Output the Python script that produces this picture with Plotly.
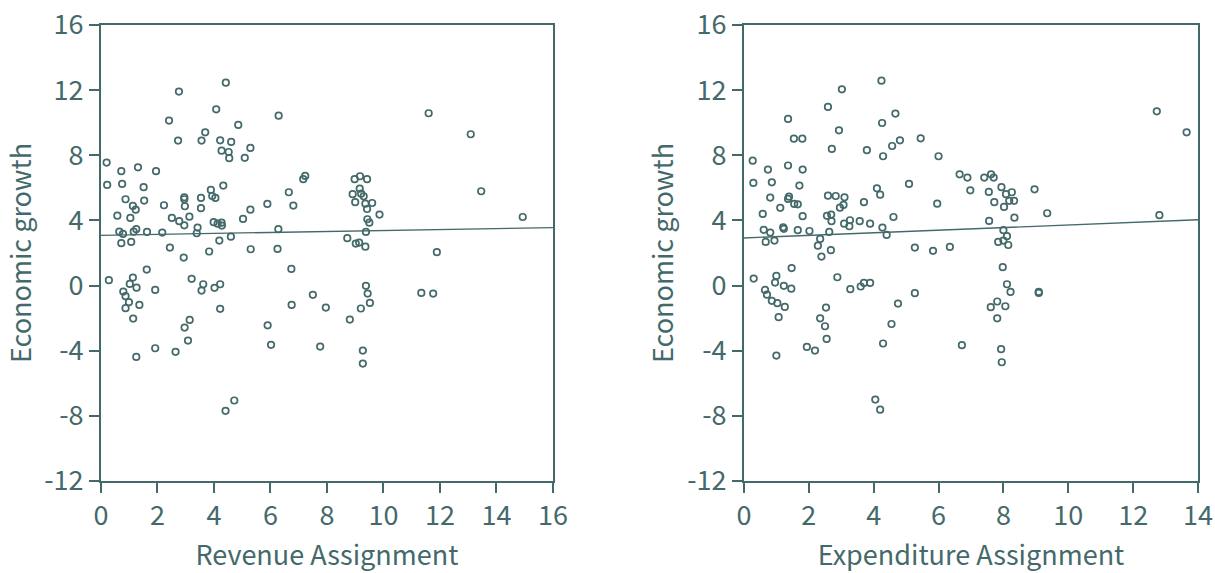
import plotly.graph_objects as go
import numpy as np

# ---- Data: left panel (Revenue Assignment vs Economic growth) ----
rev_x = [0.20, 0.22, 0.72, 0.75, 1.31, 1.95, 1.51, 0.87, 1.53, 1.13, 1.23, 0.58, 1.04,
         0.65, 0.78, 1.16, 1.25, 1.63, 2.17, 0.72, 1.07, 2.44, 2.93, 2.23, 2.51, 2.77,
         2.95, 2.95, 2.95, 2.97, 3.13, 3.42, 3.39, 3.54, 3.54, 3.89, 3.94, 4.05, 4.33,
         3.99, 4.13, 4.27, 4.28, 4.19, 3.83, 4.60, 5.03, 5.29, 5.89, 6.28, 5.30, 6.25,
         6.65, 6.81, 7.16, 7.23, 2.76, 4.42, 4.08, 2.41, 6.29, 4.86, 3.69, 2.73, 3.56,
         4.22, 4.61, 5.29, 4.27, 4.52, 4.54, 5.09,
         11.60, 13.09, 13.46, 14.93, 8.98, 9.17, 9.42, 9.16, 8.91, 9.21, 9.30, 9.00,
         9.36, 9.60, 9.42, 9.86, 9.43, 9.50, 9.38, 8.72, 9.02, 9.14, 9.36, 11.89,
         1.62, 0.28, 1.13, 1.02, 1.26, 0.79, 0.87, 0.99, 0.87, 1.36, 1.14, 1.25, 1.92,
         1.92, 2.64, 3.14, 2.96, 3.08, 3.21, 3.62, 3.56, 4.02, 4.22, 4.22, 4.41, 4.72,
         6.74, 6.75, 5.90, 6.02, 7.50, 7.96, 7.76,
         9.38, 9.44, 9.52, 9.20, 8.81, 9.27, 9.27, 11.34, 11.76]
rev_y = [7.55, 6.18, 7.02, 6.24, 7.26, 7.02, 6.04, 5.30, 5.22, 4.89, 4.66, 4.29, 4.15,
         3.31, 3.17, 3.31, 3.46, 3.29, 3.25, 2.60, 2.68, 2.33, 1.72, 4.93, 4.15, 3.95,
         3.70, 5.42, 5.30, 4.87, 4.23, 3.56, 3.21, 5.38, 4.75, 5.87, 5.50, 5.38, 6.14,
         3.89, 3.80, 3.86, 3.68, 2.76, 2.09, 3.00, 4.09, 4.66, 5.01, 3.46, 2.23, 2.25,
         5.73, 4.91, 6.53, 6.73, 11.91, 12.46, 10.82, 10.13, 10.43, 9.86, 9.41, 8.90, 8.90,
         8.92, 8.82, 8.45, 8.28, 8.20, 7.82, 7.84,
         10.58, 9.29, 5.79, 4.21, 6.53, 6.71, 6.53, 5.95, 5.61, 5.64, 5.48, 5.12,
         5.03, 5.07, 4.70, 4.36, 4.07, 3.86, 3.29, 2.91, 2.58, 2.64, 2.39, 2.05,
         0.98, 0.33, 0.49, 0.10, -0.13, -0.37, -0.65, -1.02, -1.39, -1.19, -2.03, -4.38, -0.27,
         -3.85, -4.07, -2.11, -2.58, -3.38, 0.41, 0.08, -0.31, -0.14, 0.08, -1.43, -7.69, -7.06,
         1.02, -1.19, -2.44, -3.64, -0.57, -1.35, -3.75,
         -0.02, -0.49, -1.07, -1.41, -2.09, -3.99, -4.79, -0.45, -0.49]

# ---- Data: right panel (Expenditure Assignment vs Economic growth) ----
exp_x = [0.27, 0.29, 0.74, 0.86, 1.36, 1.81, 1.71, 0.81, 1.39, 1.36, 1.55, 1.66, 1.12,
         0.58, 1.81, 0.61, 0.81, 1.21, 1.23, 1.66, 2.02, 0.67, 0.94, 2.35, 2.28, 2.39,
         2.68, 2.63, 2.59, 2.83, 3.10, 3.07, 2.96, 2.56, 2.69, 2.70, 3.09, 3.25, 3.27,
         3.57, 3.89, 3.70, 4.10, 4.20, 4.61, 4.27, 4.40, 5.09, 5.96, 5.27, 5.83, 6.35,
         6.65, 6.89, 6.98, 6.00, 5.45, 4.24, 3.02, 2.59, 4.67, 1.36, 4.26, 2.93, 1.54,
         1.80, 4.81, 4.57, 2.71, 3.79, 4.29,
         12.73, 13.65, 12.81, 7.41, 7.62, 7.70, 7.94, 7.55, 8.08, 8.26, 7.72, 8.18,
         8.33, 8.02, 8.96, 8.34, 9.35, 7.56, 8.00, 8.11, 7.84, 8.00, 8.15,
         1.47, 0.30, 1.00, 0.96, 1.23, 1.46, 0.65, 0.71, 0.86, 1.03, 1.26, 1.07, 1.00,
         1.94, 2.19, 2.53, 2.35, 2.50, 2.55, 2.88, 3.28, 3.60, 3.70, 3.89, 4.05, 4.20,
         4.75, 4.55, 4.29, 5.27, 6.72,
         7.98, 8.11, 8.22, 9.09, 9.09, 7.81, 7.61, 8.06, 7.81, 7.93, 7.95]
exp_y = [7.67, 6.30, 7.12, 6.34, 7.37, 7.12, 6.14, 5.40, 5.46, 5.32, 5.01, 4.99, 4.77,
         4.40, 4.26, 3.42, 3.25, 3.58, 3.48, 3.40, 3.35, 2.68, 2.76, 2.86, 2.45, 1.78,
         2.17, 3.29, 5.52, 5.50, 5.42, 4.95, 4.78, 4.28, 4.36, 3.95, 3.80, 3.64, 4.01,
         3.95, 3.80, 5.12, 5.97, 5.58, 4.21, 3.56, 3.11, 6.24, 5.03, 2.33, 2.13, 2.37,
         6.83, 6.63, 5.85, 7.94, 9.04, 12.58, 12.05, 10.97, 10.56, 10.23, 9.98, 9.53, 9.02,
         9.02, 8.92, 8.57, 8.39, 8.31, 7.94,
         10.70, 9.41, 4.32, 6.63, 6.83, 6.63, 6.04, 5.75, 5.61, 5.73, 5.12, 5.20,
         5.20, 4.83, 5.91, 4.17, 4.44, 3.97, 3.40, 3.03, 2.68, 2.76, 2.49,
         1.07, 0.43, 0.59, 0.18, -0.02, -0.19, -0.27, -0.56, -0.94, -1.08, -1.31, -1.94, -4.30,
         -3.77, -3.99, -1.35, -2.01, -2.50, -3.28, 0.51, -0.22, -0.06, 0.16, 0.16, -7.00, -7.62,
         -1.11, -2.36, -3.56, -0.47, -3.66,
         1.13, 0.08, -0.39, -0.39, -0.45, -0.98, -1.33, -1.27, -2.01, -3.91, -4.71]

# Fitted trend lines (intercept, slope)
rev_fit = (3.08, 0.03)
exp_fit = (2.92, 0.08)

rev_range = [0, 16]
exp_range = [0, 14]
y_range = [-12, 16]
y_ticks = [-12, -8, -4, 0, 4, 8, 12, 16]
y_ticktext = ["-12", "-8", "-4", "0", "4", "8", "12", "16"]

COL = "#44696a"
FONT = "Noto Sans CJK JP"

fig = go.Figure()

def add_panel(xs, ys, fit, xr, xa, ya):
    fig.add_trace(go.Scatter(
        x=xs, y=ys, mode="markers", xaxis=xa, yaxis=ya,
        marker=dict(symbol="circle-open", size=6.5, color=COL, line=dict(width=1.7, color=COL)),
        showlegend=False, cliponaxis=False))
    lx = np.array(xr, dtype=float)
    fig.add_trace(go.Scatter(
        x=lx, y=fit[0] + fit[1] * lx, mode="lines", xaxis=xa, yaxis=ya,
        line=dict(color=COL, width=1.3), showlegend=False))

add_panel(rev_x, rev_y, rev_fit, rev_range, "x", "y")
add_panel(exp_x, exp_y, exp_fit, exp_range, "x2", "y2")

tickfont = dict(family=FONT, size=27, color=COL, weight=400)
titlefont = dict(family=FONT, size=27, color=COL, weight=400)

axis_common = dict(showgrid=False, zeroline=False, showline=True, linecolor=COL,
                   linewidth=2, mirror=True, ticks="outside", ticklen=10, tickwidth=1.5,
                   tickcolor=COL, tickfont=tickfont, automargin=False)

fig.update_layout(
    width=1215, height=573,
    margin=dict(l=0, r=0, t=0, b=0),
    paper_bgcolor="white", plot_bgcolor="white",
    font=dict(family=FONT, color=COL),
    xaxis=dict(domain=[0.0831, 0.4551], range=rev_range, tickmode="linear", tick0=0, dtick=2,
               title=dict(text="Revenue Assignment", font=titlefont, standoff=17),
               anchor="y", **axis_common),
    yaxis=dict(domain=[0.1606, 0.9564], range=y_range, tickvals=y_ticks, ticktext=y_ticktext,
               title=dict(text="Economic growth", font=titlefont, standoff=6),
               anchor="x", **axis_common),
    xaxis2=dict(domain=[0.6123, 0.9860], range=exp_range, tickmode="linear", tick0=0, dtick=2,
                title=dict(text="Expenditure Assignment", font=titlefont, standoff=17),
                anchor="y2", **axis_common),
    yaxis2=dict(domain=[0.1606, 0.9564], range=y_range, tickvals=y_ticks, ticktext=y_ticktext,
                title=dict(text="Economic growth", font=titlefont, standoff=6),
                anchor="x2", **axis_common),
)

fig.write_html("out.html", config={"displayModeBar": False},
               post_script="document.body.style.margin='0';document.body.style.overflow='hidden';")
